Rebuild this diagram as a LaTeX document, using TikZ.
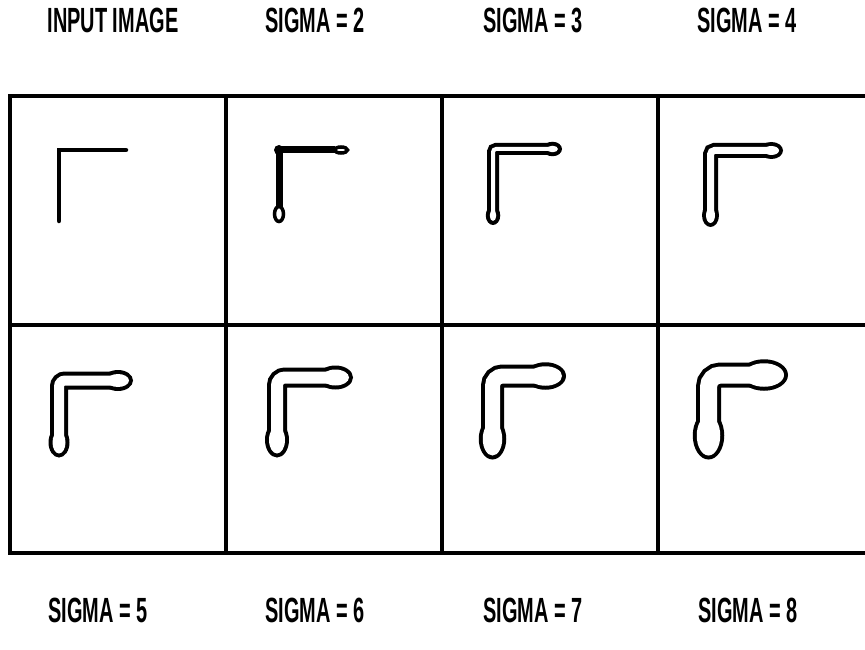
\documentclass[tikz,border=0pt]{standalone}
\usepackage{fontspec}
\usepackage{tikz}
\usetikzlibrary{positioning}
\newfontfamily\lblfont[FakeStretch=0.57]{Liberation Sans}
\newcommand{\lw}{4pt}
% blurred L: corner x, corner y, right tip, bottom tip, bar width, bulb width, rounding
\newcommand{\lsaus}[7]{%
  \pgfmathsetmacro{\bhw}{#6/2}%
  \pgfmathsetmacro{\bhl}{1.7*\bhw}%
  \pgfmathsetmacro{\bxc}{#3-4-\bhl}%
  \pgfmathsetmacro{\byc}{#4-4-\bhl}%
  \pgfmathsetmacro{\bow}{#5+8}%
  \pgfmathsetmacro{\bol}{\bhl+4}%
  \pgfmathsetmacro{\bos}{\bhw+4}%
  \draw[line width=\bow pt, rounded corners=#7pt] (#1,\byc) -- (#1,#2) -- (\bxc,#2);
  \fill (\bxc,#2) ellipse[x radius=\bol pt, y radius=\bos pt];
  \fill (#1,\byc) ellipse[x radius=\bos pt, y radius=\bol pt];
  \draw[white, line width=#5pt, rounded corners=#7pt] (#1,\byc) -- (#1,#2) -- (\bxc,#2);
  \fill[white] (\bxc,#2) ellipse[x radius=\bhl pt, y radius=\bhw pt];
  \fill[white] (#1,\byc) ellipse[x radius=\bhw pt, y radius=\bhl pt];
}

\begin{document}
\begin{tikzpicture}[
  x=1pt, y=-1pt,
  panel/.style={draw, line width=\lw, minimum width=216pt,
    minimum height=228.5pt, inner sep=0pt, outer sep=0pt},
  lbl/.style={font={\lblfont\bfseries\fontsize{35}{35}\selectfont},
    inner sep=0pt, anchor=base}
]
\useasboundingbox (0,0) rectangle (865,650);

% ---- panels ---------------------------------------------------------------
\node[panel, anchor=north west] (in1) at (10,96) {};
\node[panel, right=0pt of in1] (s2) {};
\node[panel, right=0pt of s2]  (s3) {};
\node[panel, right=0pt of s3]  (s4) {};
\node[panel, below=0pt of in1] (s5) {};
\node[panel, right=0pt of s5]  (s6) {};
\node[panel, right=0pt of s6]  (s7) {};
\node[panel, right=0pt of s7]  (s8) {};

% ---- labels ---------------------------------------------------------------
\node[lbl] (t1) at (113,33)  {INPUT IMAGE};
\node[lbl] (t2) at (315,33)  {SIGMA = 2};
\node[lbl] (t3) at (533,33)  {SIGMA = 3};
\node[lbl] (t4) at (747,33)  {SIGMA = 4};
\node[lbl] (t5) at (98,622)  {SIGMA = 5};
\node[lbl] (t6) at (315,622) {SIGMA = 6};
\node[lbl] (t7) at (533,622) {SIGMA = 7};
\node[lbl] (t8) at (748,622) {SIGMA = 8};

% ---- shapes ---------------------------------------------------------------
\begin{scope}[shift={(in1.north west)}]
  \draw[line width=4.5pt, line cap=round] (49,125) -- (49,54) -- (116,54);
\end{scope}
\begin{scope}[shift={(s2.north west)}]
  \draw[line width=7pt, line join=round] (53,112) -- (53,54) -- (109,54);
  \fill (53,54) circle[radius=5pt];
  \draw[line width=3.5pt, fill=white] (115,54) ellipse[x radius=6.5pt, y radius=3pt];
  \draw[line width=3.5pt, fill=white] (53,118) ellipse[x radius=4.5pt, y radius=7.5pt];
\end{scope}
\begin{scope}[shift={(s3.north west)}]
  \lsaus{51}{53}{120}{129}{4}{6.5}{3}
\end{scope}
\begin{scope}[shift={(s4.north west)}]
  \lsaus{52.5}{54.5}{125}{131}{7}{9}{4}
\end{scope}
\begin{scope}[shift={(s5.north west)}]
  \lsaus{49}{56}{123}{133}{10}{13}{6}
\end{scope}
\begin{scope}[shift={(s6.north west)}]
  \lsaus{51}{53}{127}{133}{12}{16}{8}
\end{scope}
\begin{scope}[shift={(s7.north west)}]
  \lsaus{50.5}{51.5}{124}{135}{15}{19.5}{10}
\end{scope}
\begin{scope}[shift={(s8.north west)}]
  \lsaus{50.5}{50.5}{130}{135}{17}{23.5}{12}
\end{scope}

\end{tikzpicture}
\end{document}
